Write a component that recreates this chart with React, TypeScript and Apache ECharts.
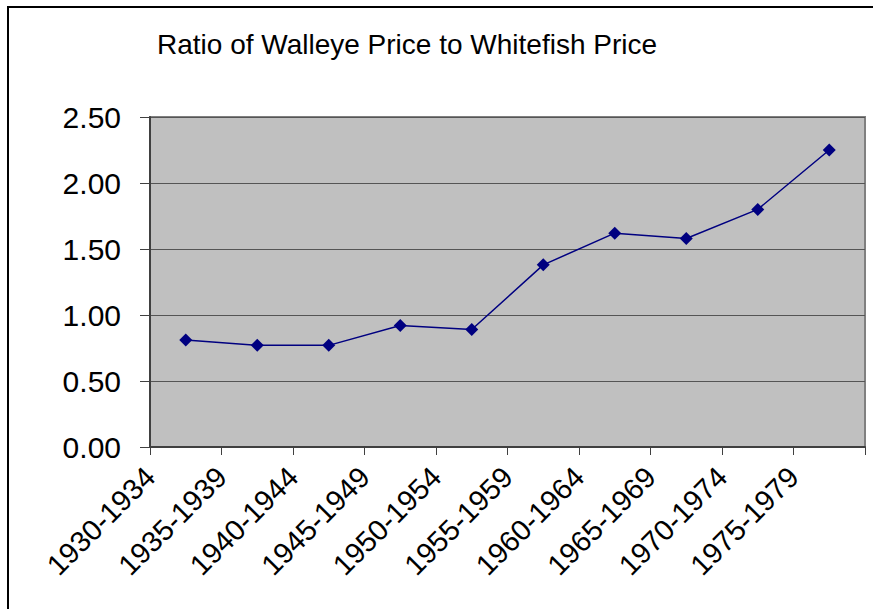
import React, { useEffect, useRef } from "react";
import * as echarts from "echarts";

const categories = [
  "1930-1934",
  "1935-1939",
  "1940-1944",
  "1945-1949",
  "1950-1954",
  "1955-1959",
  "1960-1964",
  "1965-1969",
  "1970-1974",
  "1975-1979",
];
const ratioValues = [0.81, 0.77, 0.77, 0.92, 0.89, 1.38, 1.62, 1.58, 1.8, 2.25];
const yTicks = [0, 0.5, 1.0, 1.5, 2.0, 2.5];
const titleText = "Ratio of Walleye Price to Whitefish Price";

const FONT = "'Liberation Sans', Arial, Helvetica, sans-serif";

export default function App() {
  const ref = useRef<HTMLDivElement>(null);
  useEffect(() => {
    if (!ref.current) return;
    const chart = echarts.init(ref.current, null, { renderer: "svg" });
    chart.setOption({
      animation: false,
      backgroundColor: "#ffffff",
      title: {
        text: titleText,
        left: 152,
        top: 25,
        textStyle: { fontFamily: FONT, fontSize: 28, fontWeight: "normal", color: "#000" },
      },
      graphic: [
        {
          type: "rect",
          shape: { x: 8, y: 7, width: 900, height: 700 },
          style: { fill: "none", stroke: "#000", lineWidth: 2 },
          silent: true,
          z: 100,
        },
      ],
      grid: {
        left: 150,
        right: 8,
        top: 117,
        bottom: 162,
        show: true,
        backgroundColor: "#C0C0C0",
        borderColor: "#808080",
        borderWidth: 2,
        containLabel: false,
      },
      xAxis: [
        {
          type: "category",
          data: categories,
          boundaryGap: true,
          axisLine: { show: true, lineStyle: { color: "#404040", width: 2 } },
          axisTick: { show: true, length: 8, interval: 0, lineStyle: { color: "#404040", width: 1 } },
          axisLabel: { show: false },
          splitLine: { show: false },
        },
        {
          type: "category",
          data: [...categories, ""],
          boundaryGap: false,
          position: "bottom",
          axisLine: { show: false },
          axisTick: { show: false },
          splitLine: { show: false },
          axisLabel: {
            show: true,
            interval: 0,
            rotate: 45,
            margin: 25,
            fontFamily: FONT,
            fontSize: 29,
            color: "#000",
          },
        },
      ],
      yAxis: {
        type: "value",
        min: yTicks[0],
        max: yTicks[yTicks.length - 1],
        interval: 0.5,
        axisLine: { show: true, lineStyle: { color: "#404040", width: 2 } },
        axisTick: { show: true, length: 10, lineStyle: { color: "#404040", width: 1 } },
        axisLabel: {
          margin: 29,
          fontFamily: FONT,
          fontSize: 30,
          color: "#000",
          formatter: (v: number) => v.toFixed(2),
        },
        splitLine: { show: true, lineStyle: { color: "#555555", width: 1 } },
      },
      series: [
        {
          type: "line",
          xAxisIndex: 0,
          data: ratioValues,
          symbol: "diamond",
          symbolSize: 13,
          lineStyle: { color: "#000080", width: 1.5 },
          itemStyle: { color: "#000080" },
        },
      ],
    });
    return () => chart.dispose();
  }, []);
  return (
    <div
      ref={ref}
      style={{ position: "absolute", left: 0, top: 0, width: 873, height: 609 }}
    />
  );
}
